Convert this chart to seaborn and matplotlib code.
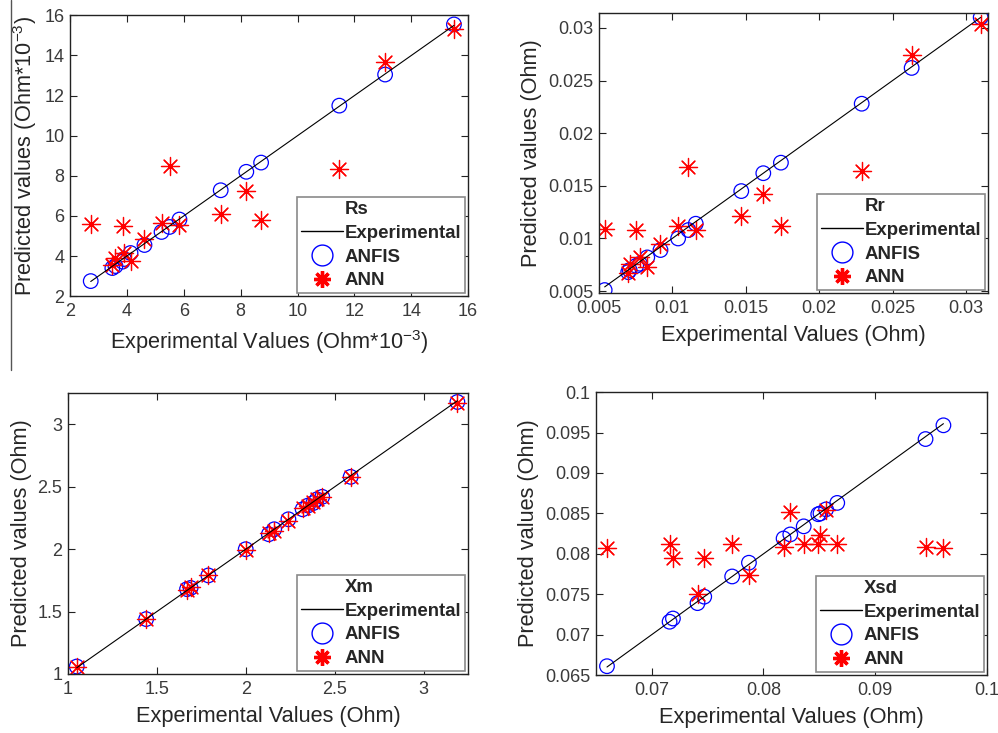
import matplotlib
matplotlib.use("Agg")
import matplotlib.pyplot as plt
import matplotlib.ticker as mticker
from matplotlib.lines import Line2D
import seaborn as sns

# Rs (Ohm*10^-3)
rs_exp   = [2.73, 3.49, 3.60, 3.85, 3.90, 4.13, 4.62, 5.22, 5.50, 5.85, 7.30, 8.20, 8.72, 11.47, 13.08, 15.50]
rs_anfis = [2.75, 3.40, 3.50, 3.72, 3.85, 4.15, 4.55, 5.20, 5.45, 5.82, 7.28, 8.20, 8.66, 11.50, 13.05, 15.55]
rs_ann   = [5.60, 3.55, 3.88, 5.50, 4.15, 3.75, 4.87, 5.65, 8.50, 5.55, 6.12, 7.23, 5.80, 8.33, 13.70, 15.30]

# Rr (Ohm)
rr_exp   = [0.0054, 0.0070, 0.0071, 0.00755, 0.0078, 0.0083, 0.0092, 0.0104, 0.0111, 0.0116,
            0.0147, 0.0162, 0.0174, 0.0229, 0.0263, 0.0310]
rr_anfis = [0.0051, 0.0068, 0.0070, 0.0074, 0.0076, 0.0082, 0.0089, 0.0100, 0.0108, 0.0114,
            0.0145, 0.0162, 0.0172, 0.0228, 0.0262, 0.0310]
rr_ann   = [0.0109, 0.0067, 0.0076, 0.0108, 0.0082, 0.0073, 0.0095, 0.0112, 0.0168, 0.0108,
            0.0121, 0.0142, 0.0112, 0.0164, 0.0274, 0.0304]

# Xm (Ohm)
xm_exp   = [1.05, 1.44, 1.67, 1.69, 1.79, 2.00, 2.13, 2.16, 2.24, 2.32, 2.35, 2.38, 2.40, 2.43, 2.59, 3.19]
xm_anfis = [1.06, 1.44, 1.68, 1.69, 1.79, 2.00, 2.12, 2.16, 2.24, 2.32, 2.35, 2.37, 2.40, 2.42, 2.58, 3.18]
xm_ann   = [1.06, 1.44, 1.67, 1.70, 1.79, 1.99, 2.13, 2.15, 2.23, 2.33, 2.35, 2.38, 2.40, 2.42, 2.58, 3.17]

# Xsd (Ohm)
xsd_exp   = [0.0660, 0.0716, 0.0719, 0.0741, 0.0747, 0.0772, 0.0787, 0.0818, 0.0824, 0.0836,
             0.0849, 0.0851, 0.0856, 0.0866, 0.0945, 0.0961]
xsd_anfis = [0.0661, 0.0716, 0.0720, 0.0739, 0.0747, 0.0772, 0.0789, 0.0819, 0.0824, 0.0834,
             0.0849, 0.0850, 0.0855, 0.0863, 0.0942, 0.0959]
xsd_ann   = [0.0807, 0.0812, 0.0795, 0.0750, 0.0795, 0.0812, 0.0774, 0.0808, 0.0852, 0.0812,
             0.0812, 0.0823, 0.0854, 0.0812, 0.0809, 0.0807]

rs_ticks  = [2, 4, 6, 8, 10, 12, 14, 16]
rr_ticks  = [0.005, 0.01, 0.015, 0.02, 0.025, 0.03]
xm_ticks  = [1, 1.5, 2, 2.5, 3]
xsd_xticks = [0.07, 0.08, 0.09, 0.1]
xsd_yticks = [0.065, 0.07, 0.075, 0.08, 0.085, 0.09, 0.095, 0.1]

sns.set_theme(style="ticks")
plt.rcParams["font.family"] = ["Liberation Sans", "DejaVu Sans"]
plt.rcParams["mathtext.fontset"] = "custom"
plt.rcParams["mathtext.rm"] = "Liberation Sans"
plt.rcParams["mathtext.default"] = "regular"

fig = plt.figure(figsize=(9.98, 7.33), dpi=100)

panels = [
    dict(rect=[0.0701, 0.596, 0.399, 0.383], name="Rs", exp=rs_exp, anfis=rs_anfis, ann=rs_ann,
         xlim=(2, 16), ylim=(2, 16), xt=rs_ticks, yt=rs_ticks,
         xl=r"Experimental Values (Ohm*10$^{-3}$)", yl=r"Predicted values (Ohm*10$^{-3}$)"),
    dict(rect=[0.600, 0.600, 0.390, 0.382], name="Rr", exp=rr_exp, anfis=rr_anfis, ann=rr_ann,
         xlim=(0.005, 0.0315), ylim=(0.0048, 0.0314), xt=rr_ticks, yt=rr_ticks,
         xl="Experimental Values (Ohm)", yl="Predicted values (Ohm)"),
    dict(rect=[0.068, 0.0805, 0.401, 0.383], name="Xm", exp=xm_exp, anfis=xm_anfis, ann=xm_ann,
         xlim=(1, 3.25), ylim=(1, 3.25), xt=xm_ticks, yt=xm_ticks,
         xl="Experimental Values (Ohm)", yl="Predicted values (Ohm)"),
    dict(rect=[0.597, 0.079, 0.392, 0.386], name="Xsd", exp=xsd_exp, anfis=xsd_anfis, ann=xsd_ann,
         xlim=(0.065, 0.1), ylim=(0.065, 0.1), xt=xsd_xticks, yt=xsd_yticks,
         xl="Experimental Values (Ohm)", yl="Predicted values (Ohm)"),
]

STAR = (8, 2, 0)

for p in panels:
    ax = fig.add_axes(p["rect"])
    sns.lineplot(x=p["exp"], y=p["exp"], color="black", linewidth=0.8,
                 estimator=None, sort=True, ax=ax)
    sns.scatterplot(x=p["exp"], y=p["anfis"], marker="o", s=110, facecolor="none",
                    edgecolor="blue", linewidth=0.9, ax=ax)
    sns.scatterplot(x=p["exp"], y=p["ann"], marker=STAR, s=170, color="red",
                    linewidth=0.9, ax=ax)

    ax.set_xlim(p["xlim"])
    ax.set_ylim(p["ylim"])
    ax.set_xticks(p["xt"])
    ax.set_yticks(p["yt"])
    fmt = mticker.FuncFormatter(lambda v, pos: f"{v:g}")
    ax.xaxis.set_major_formatter(fmt)
    ax.yaxis.set_major_formatter(fmt)
    ax.tick_params(direction="in", top=True, right=True, length=5, width=0.8,
                   labelsize=13, labelcolor="#3a3a3a", color="#222222")
    ax.tick_params(axis="x", pad=5)
    ax.tick_params(axis="y", pad=4)
    for sp in ax.spines.values():
        sp.set_color("#222222")
        sp.set_linewidth(1.0)
    ax.set_xlabel(p["xl"], fontsize=15.7, labelpad=6)
    ax.set_ylabel(p["yl"], fontsize=15.7, labelpad=4)

    handles = [
        Line2D([], [], linestyle="none"),
        Line2D([], [], color="black", linewidth=1.0),
        Line2D([], [], linestyle="none", marker="o", markersize=15,
               markerfacecolor="none", markeredgecolor="blue", markeredgewidth=1.0),
        Line2D([], [], linestyle="none", marker=STAR, markersize=12,
               color="red", markeredgewidth=2.4),
    ]
    labels = [p["name"], "Experimental", "ANFIS", "ANN"]
    leg = ax.legend(handles, labels, loc="lower right", bbox_to_anchor=(1, 0),
                    borderaxespad=0.15, frameon=True, fancybox=False,
                    edgecolor="#8a8a8a", framealpha=1, handlelength=2.25,
                    handletextpad=0.1, labelspacing=0.36, borderpad=0.22,
                    prop={"size": 13.4, "weight": "bold"})
    leg.get_frame().set_linewidth(1.2)

# thin crop border line at the left edge of the original figure
fig.add_artist(Line2D([11 / 998, 11 / 998], [1 - 370 / 733, 1], color="#555555",
                      linewidth=1.0, transform=fig.transFigure))

fig.savefig("out.png", dpi=100)
